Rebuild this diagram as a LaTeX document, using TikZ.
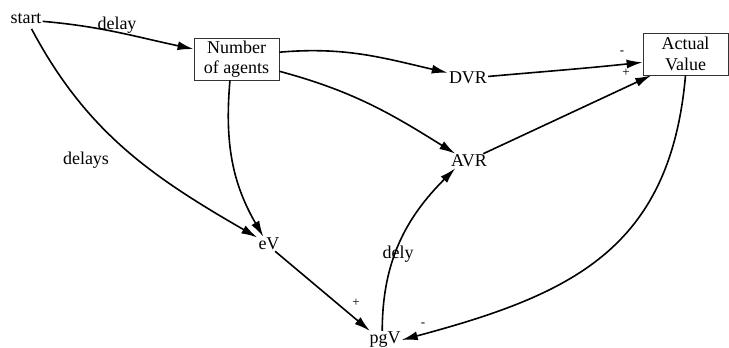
\documentclass[tikz,border=0pt]{standalone}
\usepackage{fontspec}
\setmainfont{Liberation Serif}
\usetikzlibrary{arrows.meta}
\begin{document}
\begin{tikzpicture}[x=1pt,y=1pt,
  lbl/.style={inner sep=1pt,font=\fontsize{18}{20}\selectfont},
  boxnode/.style={draw=black!80,line width=0.8pt,inner sep=0pt,minimum width=85pt,minimum height=42pt,align=center,font=\fontsize{18}{20.5}\selectfont},
  sign/.style={inner sep=0pt,font=\fontsize{13}{14}\selectfont},
  link/.style={line width=1.6pt,-{Latex[length=16pt,width=9pt]}}]
\useasboundingbox (0,0) rectangle (729,-348);
\node[lbl] (start) at (26,-19) {start};
\node[boxnode] (num) at (236.5,-59) {Number\\of agents};
\node[lbl] (dvr) at (468,-77.5) {DVR};
\node[boxnode] (act) at (685.5,-54) {Actual\\Value};
\node[lbl] (avr) at (469,-161) {AVR};
\node[lbl] (ev) at (269,-244) {eV};
\node[lbl] (pgv) at (385,-340) {pgV};
\node[lbl] (delay) at (117,-25.5) {delay};
\node[lbl] (delays) at (86,-160.5) {delays};
\node[lbl] (dely) at (398,-254.5) {dely};
\node[sign] (p1) at (356,-303) {+};
\node[sign] (m1) at (423,-325) {-};
\node[sign] (m2) at (622,-53) {-};
\node[sign] (p2) at (626,-73) {+};
\draw[link] (start.-8) to[out=-5,in=168] (num.167);
\draw[link,shorten <=4pt] (start.-60) to[out=-62,in=150] (ev.151);
\draw[link] (num.-107) to[out=-95,in=120] (ev.128);
\draw[link] (num.9) to[out=5,in=167] (dvr.167);
\draw[link] (num.-16) to[out=-15,in=148] (avr.152);
\draw[link] (dvr.3) to[out=5,in=186] (act.191);
\draw[link] (avr.27) -- (act.212);
\draw[link] (act.south) to[out=-95,in=15,looseness=1.15] (pgv.east);
\draw[link] (ev.-50) -- (pgv.149);
\draw[link] (pgv.107) to[out=90,in=225] (avr.208);
\end{tikzpicture}
\end{document}
